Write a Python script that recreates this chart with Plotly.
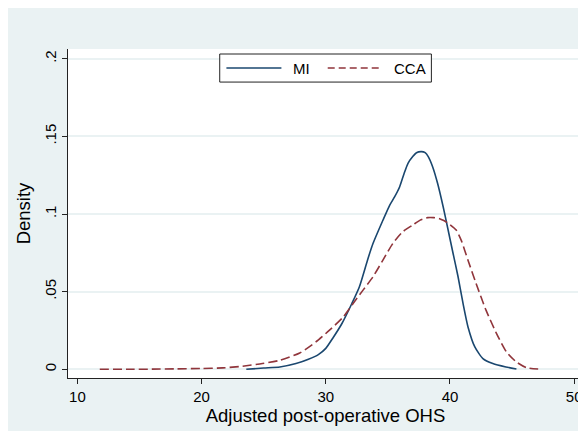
import plotly.graph_objects as go

# kernel density estimates
series_names = ["MI", "CCA"]

mi_x = [23.6, 25.0, 26.3, 27.6, 28.6, 29.4, 30.0, 30.6, 31.3, 32.1, 32.7, 33.4, 33.8,
        34.6, 35.15, 35.55, 35.95, 36.3, 36.62, 37.0, 37.3, 37.7, 38.0, 38.25, 38.6,
        39.0, 39.45, 39.85, 40.25, 40.65, 41.05, 41.45, 42.0, 42.65, 43.45, 44.5, 45.35]
mi_y = [0.0, 0.0008, 0.0015, 0.0037, 0.0065, 0.0095, 0.0135, 0.0205, 0.0295, 0.0424,
        0.053, 0.0714, 0.081, 0.096, 0.1058, 0.1112, 0.1176, 0.126, 0.1327, 0.137,
        0.1395, 0.1402, 0.1395, 0.137, 0.1305, 0.1198, 0.1047, 0.0897, 0.0746, 0.0596,
        0.0424, 0.0273, 0.0144, 0.0069, 0.0037, 0.0015, 0.0002]

cca_x = [11.8, 14.0, 16.0, 18.0, 19.9, 21.7, 23.3, 24.9, 26.3, 27.9, 29.2, 30.3, 31.4,
         32.2, 33.0, 33.8, 34.6, 35.4, 36.2, 37.0, 37.6, 38.2, 38.7, 39.1, 39.5, 40.0,
         40.5, 40.9, 41.45, 42.1, 42.9, 43.75, 44.55, 45.35, 46.15, 47.1]
cca_y = [0.0, 0.0, 0.0001, 0.0003, 0.0005, 0.0009, 0.002, 0.0037, 0.0058, 0.0105,
         0.0176, 0.0252, 0.0337, 0.0424, 0.051, 0.0596, 0.0703, 0.0811, 0.0886, 0.0929,
         0.0961, 0.0977, 0.0977, 0.0972, 0.0958, 0.0932, 0.0897, 0.0832, 0.0703, 0.0553,
         0.0381, 0.023, 0.0112, 0.0047, 0.0011, 0.0002]

x_ticks = [10, 20, 30, 40, 50]
y_ticks = [0, 0.05, 0.1, 0.15, 0.2]
y_tick_text = ["0", ".05", ".1", ".15", ".2"]

x_title = "Adjusted post-operative OHS"
y_title = "Density"

NAVY = "#1a476f"
MAROON = "#90353b"
BG = "#eaf2f3"
FONT = "Liberation Sans, Arial, sans-serif"

fig = go.Figure()
fig.add_trace(go.Scatter(x=mi_x, y=mi_y, name=series_names[0], mode="lines",
                         line=dict(color=NAVY, width=1.6, shape="spline", smoothing=0.6)))
fig.add_trace(go.Scatter(x=cca_x, y=cca_y, name=series_names[1], mode="lines",
                         line=dict(color=MAROON, width=1.6, dash="9px,4px",
                                   shape="spline", smoothing=0.6)))

# hand-drawn legend box (stata uses long key lines)
shapes = []
shapes.append(dict(type="rect", xref="paper", yref="paper", x0=0.2946, x1=0.7056,
                   y0=0.8995, y1=0.9848, fillcolor="white",
                   line=dict(color="#222222", width=1)))
shapes.append(dict(type="line", xref="paper", yref="paper", x0=0.3076, x1=0.4144,
                   y0=0.9421, y1=0.9421, line=dict(color=NAVY, width=1.6)))
shapes.append(dict(type="line", xref="paper", yref="paper", x0=0.5043, x1=0.6111,
                   y0=0.9421, y1=0.9421, line=dict(color=MAROON, width=1.6, dash="7px,4px")))

annotations = [
    dict(text=series_names[0], xref="paper", yref="paper", x=0.4338, y=0.9421,
         xanchor="left", yanchor="middle", showarrow=False, font=dict(size=15, color="black")),
    dict(text=series_names[1], xref="paper", yref="paper", x=0.6299, y=0.9421,
         xanchor="left", yanchor="middle", showarrow=False, font=dict(size=15, color="black")),
]

# page body adds an 8px margin, so the figure is 8px smaller each way
fig.update_layout(
    width=578, height=423,
    margin=dict(l=60, r=3, t=41, b=53, autoexpand=False),
    paper_bgcolor=BG, plot_bgcolor="white",
    font=dict(family=FONT, color="black", size=15),
    showlegend=False,
    shapes=shapes, annotations=annotations,
)
fig.update_xaxes(range=[9.243, 50.71], tickvals=x_ticks, showgrid=False, zeroline=False,
                 showline=True, linecolor="#222222", linewidth=1, automargin=False,
                 ticks="outside", ticklen=5, tickcolor="#222222",
                 tickfont=dict(size=15),
                 title=dict(text=x_title, font=dict(size=18.5), standoff=3))
fig.update_yaxes(range=[-0.0056, 0.2063], tickvals=y_ticks, ticktext=y_tick_text,
                 tickangle=-90, showgrid=True, gridcolor=BG, gridwidth=1.5, zeroline=False,
                 showline=True, linecolor="#222222", linewidth=1, automargin=False,
                 ticks="outside", ticklen=5, tickcolor="#222222",
                 tickfont=dict(size=15),
                 title=dict(text=y_title, font=dict(size=18.5), standoff=6))

fig.write_html("out.html")
